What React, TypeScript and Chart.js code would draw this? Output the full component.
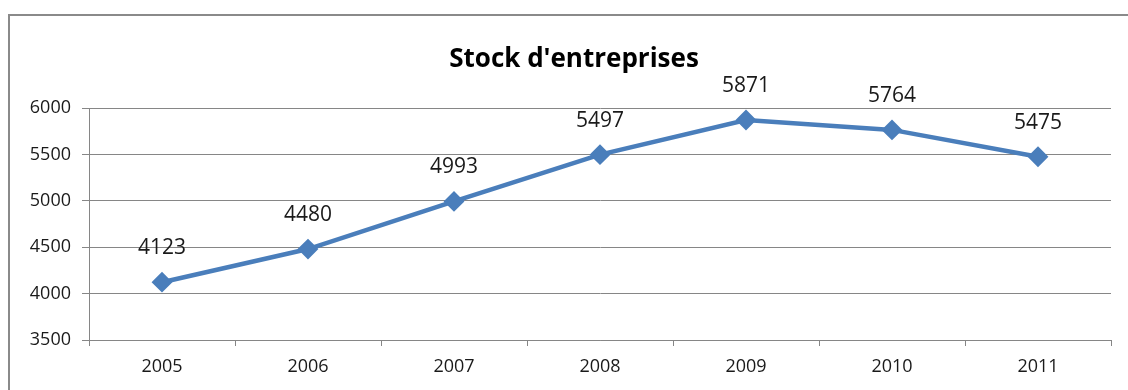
import React, { useEffect, useRef } from "react";
import { Chart, registerables } from "chart.js";

Chart.register(...registerables);

const categories = ["2005", "2006", "2007", "2008", "2009", "2010", "2011"];
const stockValues = [4123, 4480, 4993, 5497, 5871, 5764, 5475];
const titleText = "Stock d'entreprises";
const yMin = 3500;
const yMax = 6000;
const yStep = 500;

const FONT = "'Open Sans', 'Noto Sans', sans-serif";
const LINE_COLOR = "#4A7EBB";
const GRID_COLOR = "#868686";

const dataLabelPlugin = {
  id: "dataLabels",
  afterDatasetsDraw(chart: any) {
    const ctx = chart.ctx;
    const meta = chart.getDatasetMeta(0);
    const values = chart.data.datasets[0].data;
    ctx.save();
    ctx.font = `21px ${FONT}`;
    ctx.fillStyle = "#1a1a1a";
    ctx.textAlign = "center";
    ctx.textBaseline = "middle";
    meta.data.forEach((pt: any, i: number) => {
      ctx.fillText(String(values[i]), pt.x, pt.y - 34);
    });
    ctx.restore();
  },
};

const titlePlugin = {
  id: "customTitle",
  afterDraw(chart: any) {
    const ctx = chart.ctx;
    ctx.save();
    ctx.font = `bold 26px ${FONT}`;
    ctx.fillStyle = "#000";
    ctx.textAlign = "center";
    ctx.textBaseline = "middle";
    ctx.fillText(titleText, 574, 60);
    ctx.restore();
  },
};

export default function App() {
  const canvasRef = useRef<HTMLCanvasElement | null>(null);

  useEffect(() => {
    if (!canvasRef.current) return;
    const chart = new Chart(canvasRef.current, {
      type: "line",
      data: {
        labels: categories,
        datasets: [
          {
            label: titleText,
            data: stockValues,
            borderColor: LINE_COLOR,
            backgroundColor: LINE_COLOR,
            borderWidth: 4.5,
            pointStyle: "rectRot",
            pointRadius: 9,
            pointBorderWidth: 2,
            pointBackgroundColor: LINE_COLOR,
            pointBorderColor: LINE_COLOR,
            tension: 0,
          },
        ],
      },
      options: {
        responsive: false,
        animation: false,
        layout: { padding: { left: 0, right: 17, top: 108, bottom: 0 } },
        plugins: {
          legend: { display: false },
          tooltip: { enabled: false },
          title: { display: false },
        },
        scales: {
          x: {
            type: "category",
            offset: true,
            grid: {
              offset: true,
              drawOnChartArea: false,
              drawTicks: true,
              tickLength: 6,
              color: GRID_COLOR,
            },
            border: { display: true, color: GRID_COLOR, width: 1 },
            ticks: {
              color: "#1a1a1a",
              font: { family: FONT, size: 18 },
              padding: 10,
              maxRotation: 0,
            },
            afterFit(scale: any) {
              scale.height = 50;
            },
          },
          y: {
            min: yMin,
            max: yMax,
            ticks: {
              stepSize: yStep,
              color: "#1a1a1a",
              font: { family: FONT, size: 18 },
              padding: 11,
              callback: (v: any) => String(v),
            },
            grid: {
              color: GRID_COLOR,
              drawTicks: true,
              tickLength: 7,
            },
            border: { display: true, color: GRID_COLOR, width: 1 },
            afterFit(scale: any) {
              scale.width = 89;
            },
          },
        },
      },
      plugins: [dataLabelPlugin, titlePlugin],
    });
    return () => chart.destroy();
  }, []);

  return (
    <div>
      <div
        style={{
          position: "fixed",
          left: 8,
          top: 14,
          width: 1400,
          height: 600,
          border: "2px solid #8a8a8a",
          boxSizing: "border-box",
          pointerEvents: "none",
        }}
      />
      <canvas
        ref={canvasRef}
        width={1128}
        height={390}
        style={{ position: "fixed", left: 0, top: 0, display: "block" }}
      />
    </div>
  );
}
